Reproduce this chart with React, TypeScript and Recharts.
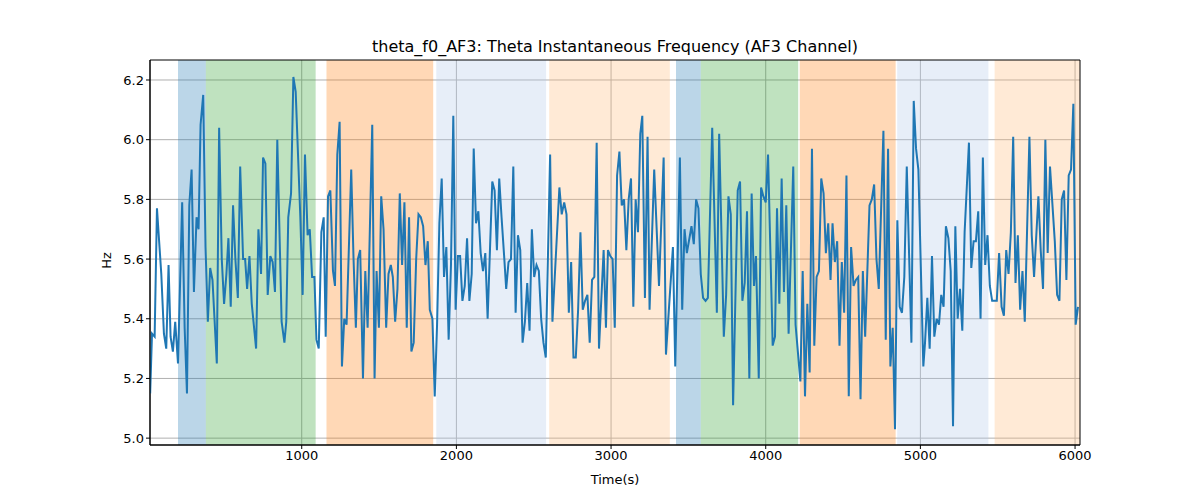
import { LineChart, Line, XAxis, YAxis, CartesianGrid, ReferenceArea } from "recharts"

const times = [
  20, 32, 49, 64, 92, 109, 124, 139, 152, 167, 182, 200, 227, 243, 258, 273, 288, 303, 320, 333, 346, 363, 378, 393, 408, 423, 451, 466, 483, 498, 513, 526, 541, 556, 571, 587, 602, 621, 634, 647, 662, 677, 705, 720, 737, 750, 765, 780, 797, 812, 827, 842, 870, 888, 900, 913, 931, 946, 961, 991, 1006, 1021, 1038,
  1052, 1067, 1082, 1095, 1110, 1127, 1142, 1155, 1170, 1185, 1202, 1215, 1230, 1245, 1260, 1275, 1290, 1320, 1335, 1350, 1363, 1378, 1396, 1411, 1426, 1441, 1456, 1471, 1484, 1499, 1514, 1529, 1546, 1561, 1576, 1589, 1604, 1619, 1634, 1649, 1664, 1679, 1694, 1709, 1724, 1740, 1755, 1770, 1785, 1800, 1815, 1828, 1845, 1860, 1875, 1890, 1905, 1920, 1935, 1950, 1965, 1980, 1995, 2010,
  2024, 2039, 2054, 2069, 2084, 2099, 2112, 2127, 2142, 2157, 2172, 2187, 2202, 2232, 2247, 2262, 2277, 2292, 2310, 2322, 2337, 2353, 2368, 2383, 2398, 2413, 2428, 2443, 2458, 2473, 2488, 2503, 2518, 2533, 2548, 2563, 2578, 2606, 2621, 2636, 2666, 2681, 2697, 2712, 2727, 2742, 2757, 2772, 2787, 2802, 2817, 2832, 2847, 2862, 2877, 2892, 2907, 2922, 2952, 2967, 2980, 2995, 3010,
  3024, 3039, 3054, 3069, 3084, 3099, 3114, 3129, 3144, 3159, 3174, 3189, 3202, 3219, 3236, 3249, 3279, 3310, 3340, 3355, 3400, 3415, 3445, 3460, 3475, 3490, 3520, 3535, 3550, 3565, 3580, 3595, 3611, 3626, 3654, 3684, 3699, 3729, 3744, 3759, 3774, 3789, 3819, 3834, 3849, 3864, 3879, 3894, 3909, 3924, 3937, 3955, 3970, 3985, 4000, 4015,
  4045, 4060, 4073, 4088, 4103, 4118, 4133, 4148, 4178, 4193, 4224, 4239, 4254, 4269, 4284, 4299, 4314, 4329, 4344, 4359, 4374, 4389, 4404, 4419, 4432, 4447, 4462, 4477, 4492, 4507, 4522, 4537, 4552, 4568, 4583, 4598, 4613, 4628, 4643, 4671, 4686, 4701, 4716, 4731, 4761, 4776, 4791, 4806, 4821, 4836, 4851, 4866, 4881, 4896, 4912, 4942, 4957, 4972, 4987, 5019,
  5030, 5045, 5060, 5075, 5090, 5105, 5120, 5135, 5150, 5165, 5181, 5196, 5211, 5226, 5241, 5256, 5271, 5286, 5314, 5329, 5344, 5359, 5374, 5389, 5404, 5419, 5434, 5449, 5464, 5479, 5494, 5509, 5525, 5540, 5555, 5570, 5585, 5600, 5615, 5630, 5645, 5660, 5675, 5705, 5720, 5735, 5763, 5778, 5793, 5808, 5823, 5838, 5869, 5884, 5899, 5914, 5929, 5944, 5959, 5974, 5989, 6004, 6019,
]

const freq = [
  5.15, 5.35, 5.34, 5.77, 5.55, 5.35, 5.30, 5.58, 5.34, 5.29, 5.39, 5.25, 5.79, 5.37, 5.15, 5.78, 5.90, 5.49, 5.74, 5.70, 6.05, 6.15, 5.64, 5.39, 5.57, 5.53, 5.25, 6.04, 5.60, 5.45, 5.55, 5.67, 5.44, 5.78, 5.60, 5.47, 5.91, 5.60, 5.60, 5.50, 5.61, 5.45, 5.30, 5.70, 5.55, 5.94, 5.92, 5.48, 5.61, 5.59, 5.49, 6.00, 5.39, 5.32, 5.39, 5.74, 5.82, 6.21, 6.16, 5.74, 5.48, 5.95, 5.68,
  5.70, 5.54, 5.54, 5.33, 5.30, 5.69, 5.74, 5.34, 5.81, 5.83, 5.56, 5.51, 5.95, 6.06, 5.24, 5.40, 5.38, 5.90, 5.60, 5.37, 5.60, 5.63, 5.20, 5.56, 5.37, 5.71, 6.05, 5.20, 5.56, 5.37, 5.81, 5.70, 5.37, 5.55, 5.58, 5.54, 5.39, 5.50, 5.82, 5.58, 5.79, 5.37, 5.74, 5.29, 5.32, 5.60, 5.75, 5.74, 5.71, 5.58, 5.66, 5.43, 5.40, 5.14, 5.38, 5.72, 5.87, 5.54, 5.64, 5.33, 5.58, 6.08, 5.43, 5.61,
  5.61, 5.46, 5.51, 5.67, 5.46, 5.55, 5.97, 5.72, 5.76, 5.62, 5.56, 5.62, 5.40, 5.86, 5.83, 5.63, 5.87, 5.74, 5.60, 5.50, 5.59, 5.60, 5.91, 5.42, 5.68, 5.63, 5.32, 5.39, 5.52, 5.36, 5.70, 5.54, 5.58, 5.56, 5.40, 5.32, 5.27, 5.95, 5.39, 5.54, 5.84, 5.75, 5.79, 5.75, 5.42, 5.59, 5.27, 5.27, 5.43, 5.69, 5.43, 5.46, 5.48, 5.32, 5.53, 5.54, 5.99, 5.30, 5.63, 5.37, 5.63, 5.61, 5.60,
  5.37, 5.88, 5.96, 5.78, 5.80, 5.63, 5.80, 5.87, 5.44, 5.80, 5.69, 6.02, 6.08, 5.47, 6.01, 5.43, 5.90, 5.51, 5.94, 5.28, 5.64, 5.24, 5.94, 5.43, 5.70, 5.62, 5.71, 5.65, 5.80, 5.77, 5.55, 5.47, 5.46, 5.47, 6.04, 5.42, 6.02, 5.34, 5.48, 5.81, 5.75, 5.11, 5.83, 5.86, 5.46, 5.52, 5.76, 5.20, 5.82, 5.51, 5.61, 5.20, 5.84, 5.81, 5.79, 5.95,
  5.31, 5.34, 5.77, 5.45, 5.87, 5.49, 5.78, 5.35, 5.91, 5.38, 5.19, 5.56, 5.14, 5.45, 5.22, 5.97, 5.31, 5.54, 5.56, 5.87, 5.82, 5.62, 5.72, 5.53, 5.72, 5.59, 5.66, 5.31, 5.59, 5.42, 5.88, 5.14, 5.64, 5.51, 5.53, 5.54, 5.13, 5.56, 5.34, 5.78, 5.80, 5.85, 5.60, 5.50, 6.03, 5.33, 5.97, 5.24, 5.37, 5.03, 5.73, 5.44, 5.42, 5.54, 5.91, 5.32, 6.13, 5.97, 5.90, 5.24,
  5.32, 5.47, 5.30, 5.61, 5.34, 5.40, 5.38, 5.48, 5.44, 5.71, 5.67, 5.56, 5.04, 5.71, 5.40, 5.50, 5.36, 5.69, 5.99, 5.57, 5.66, 5.66, 5.76, 5.40, 5.94, 5.58, 5.68, 5.51, 5.46, 5.46, 5.46, 5.62, 5.44, 5.41, 5.63, 5.55, 5.69, 6.01, 5.52, 5.68, 5.43, 5.56, 5.39, 6.01, 5.68, 5.54, 5.81, 5.63, 5.50, 6.00, 5.62, 5.91, 5.66, 5.48, 5.46, 5.80, 5.83, 5.53, 5.88, 5.90, 6.12, 5.38, 5.44,
]

// shaded segments: start, end, colour
const bandStarts = [200, 380, 1160, 1870, 2600, 3420, 3580, 4220, 4850, 5480]
const bandEnds = [380, 1090, 1850, 2580, 3380, 3580, 4210, 4840, 5440, 6040]
const bandColors = ["#1f77b4", "#2ca02c", "#ff7f0e", "#aec7e8", "#ffbb78", "#1f77b4", "#2ca02c", "#ff7f0e", "#aec7e8", "#ffbb78"]

const xTicks = [1000, 2000, 3000, 4000, 5000, 6000]
const yTicks = [5.0, 5.2, 5.4, 5.6, 5.8, 6.0, 6.2]
const xDomain = [19, 6032]
const yDomain = [4.977, 6.267]

const data = times.map((t, i) => ({ t, v: freq[i] }))

const tickStyle = { fontSize: 13, fill: "#000", fontFamily: "DejaVu Sans" }

export default function App() {
  return (
    <div style={{ position: "absolute", left: 0, top: 0, width: 1200, height: 500, background: "#fff", fontFamily: "DejaVu Sans" }}>
      <div style={{ position: "absolute", top: 37, width: 930, left: 150, textAlign: "center", fontSize: 16 }}>
        theta_f0_AF3: Theta Instantaneous Frequency (AF3 Channel)
      </div>
      <div style={{ position: "absolute", top: 472, width: 930, left: 150, textAlign: "center", fontSize: 13 }}>Time(s)</div>
      <div style={{ position: "absolute", left: 98, top: 253, transform: "rotate(-90deg)", fontSize: 13 }}>Hz</div>
      <LineChart width={1200} height={500} data={data} margin={{ top: 60, right: 120, bottom: 30, left: 0 }}>
        <CartesianGrid stroke="#b0b0b0" strokeWidth={1} horizontalValues={yTicks} verticalValues={xTicks} />
        {bandStarts.map((s, i) => (
          <ReferenceArea key={i} x1={s} x2={bandEnds[i]} fill={bandColors[i]} fillOpacity={0.3} stroke="none" ifOverflow="hidden" />
        ))}
        <ReferenceArea x1={xDomain[0]} x2={xDomain[1]} y1={yDomain[0]} y2={yDomain[1]} fill="none" stroke="#000" strokeWidth={1} />
        <XAxis dataKey="t" type="number" domain={xDomain} ticks={xTicks} height={25} tick={tickStyle} stroke="#000" tickSize={4} allowDataOverflow />
        <YAxis type="number" domain={yDomain} ticks={yTicks} width={150} tick={tickStyle} stroke="#000" tickSize={4} tickFormatter={(v) => v.toFixed(1)} allowDataOverflow />
        <Line dataKey="v" type="linear" stroke="#1f77b4" strokeWidth={2} dot={false} isAnimationActive={false} />
      </LineChart>
    </div>
  )
}
